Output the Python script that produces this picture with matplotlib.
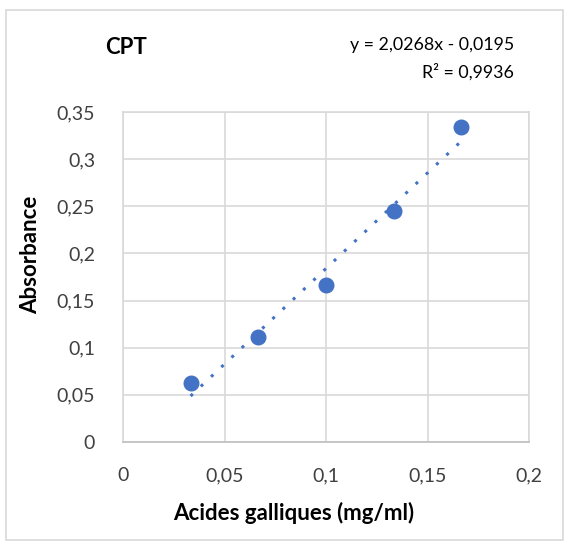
import numpy as np
import matplotlib.pyplot as plt
from matplotlib.patches import Rectangle

# data
concentration = [0.0333, 0.0667, 0.1, 0.1333, 0.1667]
absorbance = [0.063, 0.111, 0.167, 0.245, 0.334]
xticks = [0, 0.05, 0.1, 0.15, 0.2]
xtick_labels = ['0', '0,05', '0,1', '0,15', '0,2']
yticks = [0, 0.05, 0.1, 0.15, 0.2, 0.25, 0.3, 0.35]
ytick_labels = ['0', '0,05', '0,1', '0,15', '0,2', '0,25', '0,3', '0,35']
equation = 'y = 2,0268x - 0,0195'
r2_text = 'R² = 0,9936'

plt.rcParams['font.family'] = ['Lato', 'DejaVu Sans']
blue = '#4472C4'

fig = plt.figure(figsize=(5.69, 5.47), dpi=100)
ax = fig.add_axes([123/569, 1-442/547, 406/569, 330/547])

x = np.array(concentration)
y = np.array(absorbance)
slope, intercept = np.polyfit(x, y, 1)
xs = np.array([x.min(), x.max()])
ax.plot(xs, slope*xs + intercept, color=blue, linewidth=2.2,
        linestyle=(0, (1, 3.6)), zorder=2)
ax.plot(x, y, 'o', color=blue, markersize=10.5, zorder=3)

ax.set_xlim(0, 0.2)
ax.set_ylim(0, 0.35)
ax.set_xticks(xticks)
ax.set_xticklabels(xtick_labels)
ax.set_yticks(yticks)
ax.set_yticklabels(ytick_labels)
ax.grid(True, color='#D9D9D9', linewidth=1.2)
ax.set_axisbelow(True)
ax.tick_params(length=0, labelsize=14, labelcolor='#404040', pad=18)
ax.tick_params(axis='y', pad=20)
for s in ['top', 'right', 'left']:
    ax.spines[s].set_color('#D9D9D9')
    ax.spines[s].set_linewidth(1.2)
ax.spines['bottom'].set_color('#BFBFBF')
ax.spines['bottom'].set_linewidth(1.2)

fig.text(294/569, 1-513/547, 'Acides galliques (mg/ml)', fontsize=16,
         fontweight='bold', ha='center', va='center')
fig.text(31/569, 1-255/547, 'Absorbance', fontsize=16, fontweight='bold',
         rotation=90, ha='center', va='center')

fig.text(105/569, 1-47/547, 'CPT', fontsize=16, fontweight='bold',
         va='center', ha='left')
fig.text(514/569, 1-45/547, equation, fontsize=12.8, ha='right', va='center')
fig.text(514/569, 1-72/547, r2_text, fontsize=12.8, ha='right', va='center')

fig.patches.append(Rectangle((6/569, 7/547), 557/569, 530/547,
                             transform=fig.transFigure, fill=False,
                             edgecolor='#D9D9D9', linewidth=1.2))

fig.savefig('out.png', dpi=100)
